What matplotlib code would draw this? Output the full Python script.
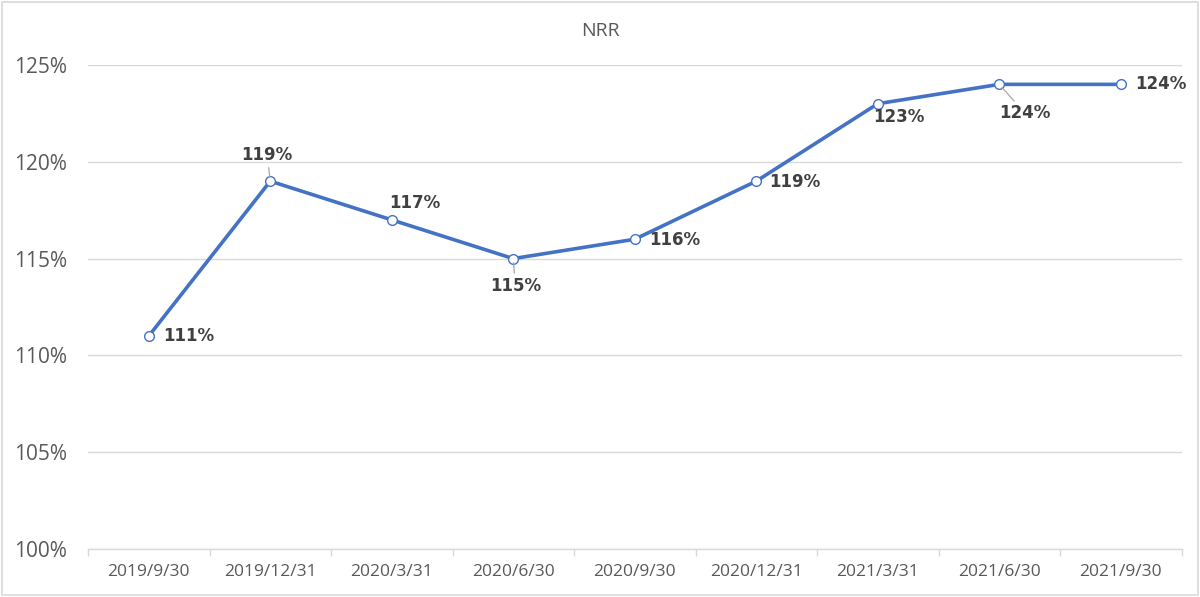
import matplotlib
matplotlib.use("Agg")
import matplotlib.pyplot as plt
from matplotlib.patches import Rectangle

categories = ["2019/9/30", "2019/12/31", "2020/3/31", "2020/6/30", "2020/9/30",
              "2020/12/31", "2021/3/31", "2021/6/30", "2021/9/30"]
nrr = [111, 119, 117, 115, 116, 119, 123, 124, 124]
y_ticks = [100, 105, 110, 115, 120, 125]
# label offsets in pixels (dx, dy) and whether a leader line is drawn
label_offsets = [(40, 0), (-3, 26), (23, 17), (2, -27), (40, -1), (39, -1), (21, -13), (26, -29), (40, 0)]
leaders = [False, True, False, True, False, False, False, True, False]

plt.rcParams['font.family'] = ['Open Sans', 'DejaVu Sans']

fig = plt.figure(figsize=(12, 5.97), dpi=100)
ax = fig.add_axes([88/1200, 1-549/597, (1181.5-88)/1200, (549-65)/597])

x = list(range(len(categories)))
ax.plot(x, nrr, color="#4472C4", lw=2.6, marker="o", ms=7,
        markerfacecolor="white", markeredgecolor="#4472C4", markeredgewidth=1.0,
        zorder=3, clip_on=False)

for i, (v, (dx, dy), ld) in enumerate(zip(nrr, label_offsets, leaders)):
    kw = {}
    if ld:
        kw["arrowprops"] = dict(arrowstyle="-", color="#A6A6A6", lw=0.9, shrinkA=0.5, shrinkB=3)
    ax.annotate(f"{v}%", (i, v), xytext=(dx, dy), textcoords="offset pixels",
                ha="center", va="center", fontsize=12, fontweight="bold",
                family="DejaVu Sans", color="#404040", zorder=4, **kw)

ax.set_xlim(-0.5, len(categories) - 0.5)
ax.set_ylim(100, 125)
ax.set_yticks(y_ticks)
ax.set_yticklabels([f"{t}%" for t in y_ticks], fontsize=15, color="#595959")
ax.yaxis.grid(True, color="#D9D9D9", lw=1.0)
ax.set_axisbelow(True)

ax.set_xticks(x)
ax.set_xticklabels(categories, fontsize=12.5, color="#595959")
ax.set_xticks([i - 0.5 for i in range(len(categories) + 1)], minor=True)
ax.tick_params(axis="x", which="major", length=0, pad=11)
ax.tick_params(axis="x", which="minor", length=5, color="#D9D9D9", width=1)
ax.tick_params(axis="y", length=0, pad=15)

for s in ["top", "right", "left"]:
    ax.spines[s].set_visible(False)
ax.spines["bottom"].set_color("#D9D9D9")
ax.spines["bottom"].set_linewidth(1.0)

fig.text(600/1200, 1-31/597, "NRR", ha="center", va="center", fontsize=14, color="#595959")

fig.patches.append(Rectangle((0.002, 0.003), 0.996, 0.994, transform=fig.transFigure,
                             fill=False, edgecolor="#D9D9D9", lw=1.2))

fig.savefig("out.png", dpi=100, facecolor="white")
